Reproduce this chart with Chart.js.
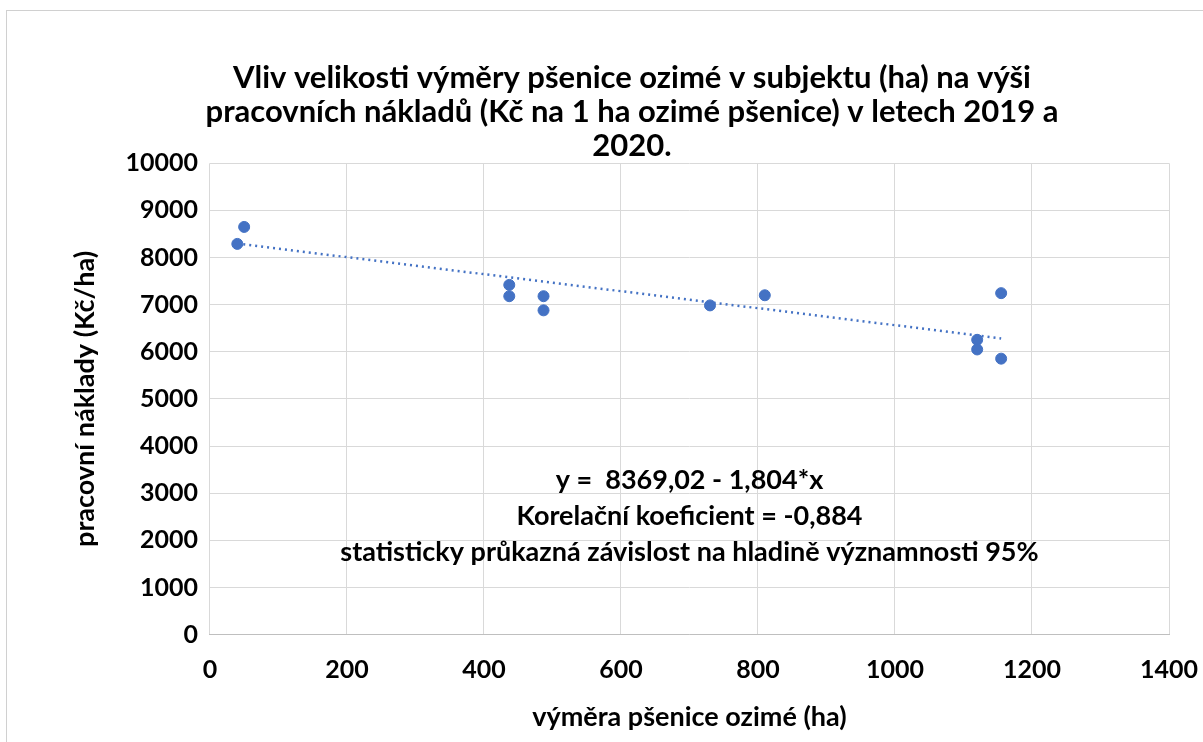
<!DOCTYPE html>
<html>
<head>
<meta charset="utf-8">
<script src="https://cdn.jsdelivr.net/npm/chart.js@4"></script>
<style>
  html, body { margin: 0; padding: 0; background: #fff; }
  #wrap { position: absolute; left: 6px; top: 10px; width: 1197px; height: 732px; border-left: 1px solid #d0d0d0; border-top: 1px solid #d0d0d0; box-sizing: border-box; }
</style>
</head>
<body>
<div id="wrap"><canvas id="myChart"></canvas></div>
<script>
var areaHa = [40, 50, 437, 437, 487, 487, 730, 810, 1120, 1120, 1155, 1155];
var costs = [8290, 8650, 7420, 7180, 7180, 6880, 6985, 7200, 6255, 6050, 7245, 5855];
var trendX = [40, 1155];
var trendY = [8297, 6285];
var titleLines = ["Vliv velikosti výměry pšenice ozimé v subjektu (ha) na výši",
  "pracovních nákladů (Kč na 1 ha ozimé pšenice) v letech 2019 a", "2020."];
var noteLines = ["y =  8369,02 - 1,804*x", "Korelační koeficient = -0,884",
  "statisticky průkazná závislost na hladině významnosti 95%"];

var points = areaHa.map(function (x, i) { return {x: x, y: costs[i]}; });
var trend = trendX.map(function (x, i) { return {x: x, y: trendY[i]}; });

var FONT = "Lato, 'Liberation Sans', sans-serif";

// text block with the regression equation, placed inside the plot area
var notePlugin = {
  id: "note",
  afterDatasetsDraw: function (chart) {
    var ctx = chart.ctx;
    var a = chart.chartArea;
    ctx.save();
    ctx.font = "bold 27px " + FONT;
    ctx.fillStyle = "#000";
    ctx.textAlign = "center";
    ctx.textBaseline = "middle";
    var cx = a.left + (a.right - a.left) * 0.5;
    for (var i = 0; i < noteLines.length; i++) {
      ctx.fillText(noteLines[i], cx, a.top + 317 + i * 36);
    }
    ctx.restore();
  }
};

new Chart("myChart", {
  type: "scatter",
  data: {
    datasets: [{
      data: points,
      backgroundColor: "#4472C4",
      borderColor: "#4472C4",
      pointRadius: 5.5,
      order: 1
    }, {
      type: "line",
      data: trend,
      borderColor: "#4472C4",
      borderWidth: 2.5,
      borderDash: [2, 4],
      pointRadius: 0,
      fill: false,
      order: 2
    }]
  },
  options: {
    responsive: true,
    maintainAspectRatio: false,
    animation: false,
    layout: {padding: {left: 60, right: 6, top: 0, bottom: 9}},
    plugins: {
      legend: {display: false},
      tooltip: {enabled: false},
      title: {
        display: true,
        text: titleLines,
        color: "#000",
        font: {family: FONT, size: 31, weight: "bold", lineHeight: 1.1},
        padding: {top: 50, bottom: 0}
      }
    },
    scales: {
      x: {
        type: "linear",
        min: 0, max: 1400,
        ticks: {stepSize: 200, color: "#000", font: {family: FONT, size: 25, weight: "bold"}, padding: 20,
          callback: function (v) { return String(v); }},
        grid: {color: "#d9d9d9", drawTicks: false},
        border: {color: "#bfbfbf"},
        // let the last tick label run close to the edge, as in the original
        afterFit: function (scale) { scale.paddingRight = 34; },
        title: {display: true, text: "výměra pšenice ozimé (ha)", color: "#000",
          font: {family: FONT, size: 27, weight: "bold"}, padding: {top: -4, bottom: 0}}
      },
      y: {
        min: 0, max: 10000,
        ticks: {stepSize: 1000, color: "#000", font: {family: FONT, size: 25, weight: "bold"}, padding: 12,
          callback: function (v) { return String(v); }},
        grid: {color: "#d9d9d9", drawTicks: false},
        border: {display: false},
        title: {display: true, text: "pracovní náklady (Kč/ha)", color: "#000",
          font: {family: FONT, size: 27, weight: "bold"}, padding: {top: 2, bottom: 12}}
      }
    }
  },
  plugins: [notePlugin]
});
</script>
</body>
</html>
